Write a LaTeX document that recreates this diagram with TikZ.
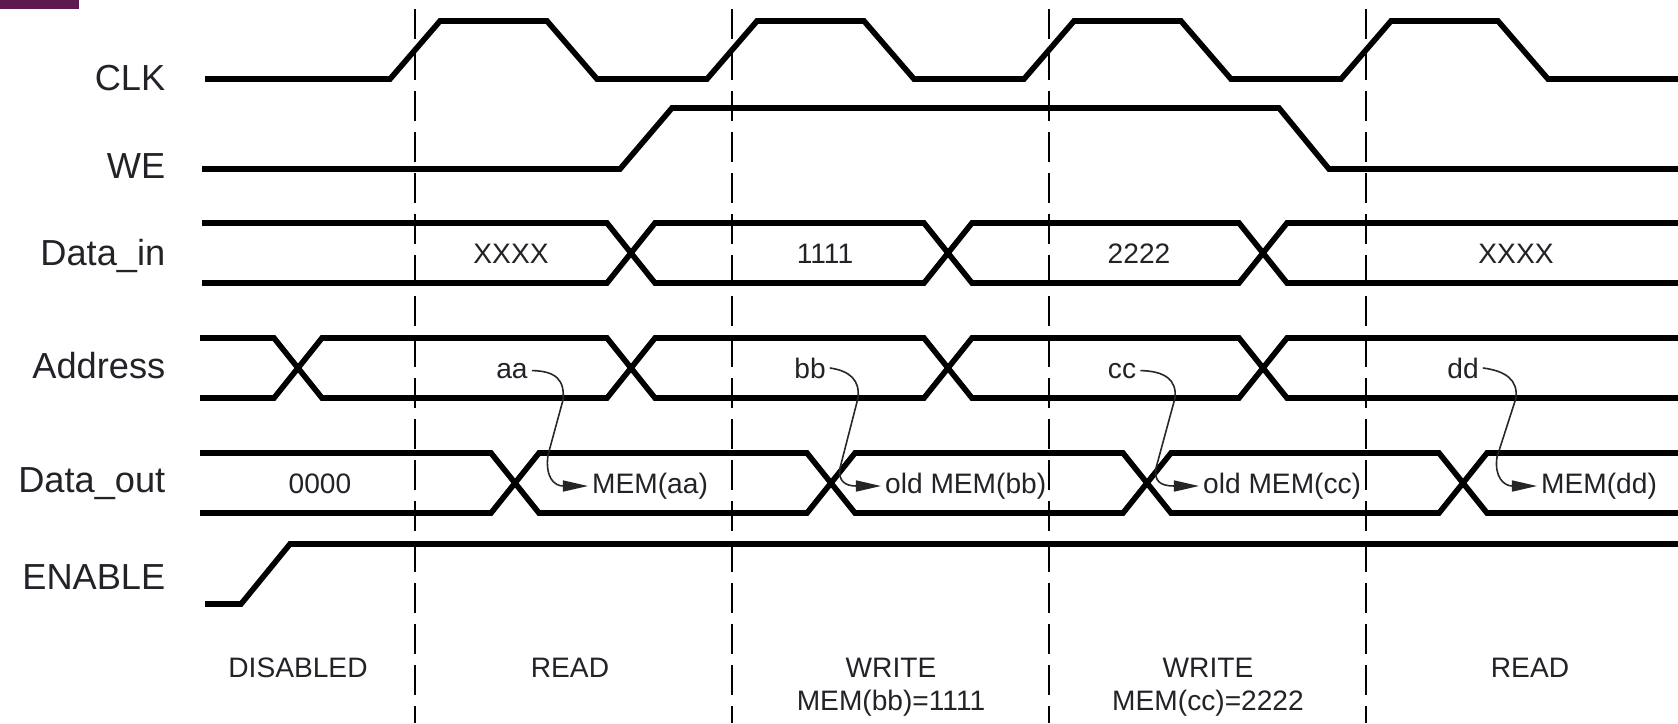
\documentclass[tikz,border=0pt]{standalone}
\usepackage{fontspec}
\setmainfont{Liberation Sans}
\usetikzlibrary{arrows.meta}
\definecolor{barpurple}{RGB}{92,26,80}
\definecolor{textgray}{RGB}{34,34,40}
\tikzstyle{signal} = [line width=1.6pt, black]
\tikzstyle{phase_line} = [line width=0.7pt, black, dash pattern=on 0.3cm off 0.11cm]
\tikzstyle{sig_name} = [anchor=base east, inner sep=0pt, text=textgray, font=\fontsize{10.3}{12}\selectfont]
\tikzstyle{bus_value} = [anchor=base, inner sep=1pt, text=textgray, font=\fontsize{8}{9.4}\selectfont]
\tikzstyle{mem_value} = [anchor=west, inner sep=1pt, text=textgray, font=\fontsize{8}{9.4}\selectfont]
\tikzstyle{phase_name} = [anchor=north, inner sep=0pt, align=center, text=textgray, font=\fontsize{8}{9.4}\selectfont]
\tikzstyle{mem_arrow} = [line width=0.45pt, black!85, -{Triangle[length=2.5mm,width=1.1mm]}]

\begin{document}
\begin{tikzpicture}[x=0.01cm, y=-0.01cm]

    \useasboundingbox (0,0) rectangle (1678,723);
    \fill [barpurple] (0,0) rectangle (79,9);

    % signal names
    \node (clk) [sig_name] at (166,90) {CLK};
    \node (we) [sig_name] at (166,178) {WE};
    \node (datain) [sig_name] at (166,265) {Data\_in};
    \node (address) [sig_name] at (166,378) {Address};
    \node (dataout) [sig_name] at (166,492) {Data\_out};
    \node (enable) [sig_name] at (166,589) {ENABLE};

    % phase boundaries
    \draw [phase_line] (415,9) -- (415,723);
    \draw [phase_line] (732,9) -- (732,723);
    \draw [phase_line] (1049,9) -- (1049,723);
    \draw [phase_line] (1366,9) -- (1366,723);

    % waveforms
    \draw [signal] (205,79) -- (390,79) -- (440,21) -- (547,21) -- (597,79) -- (707,79) -- (757,21)
        -- (864,21) -- (914,79) -- (1024,79) -- (1074,21) -- (1181,21) -- (1231,79) -- (1341,79)
        -- (1391,21) -- (1498,21) -- (1548,79) -- (1678,79);

    \draw [signal] (202,169) -- (620,169) -- (672,108) -- (1279,108) -- (1329,169) -- (1678,169);

    \draw [signal] (202,223) -- (607,223) -- (655,283) -- (924,283) -- (972,223) -- (1239,223)
        -- (1287,283) -- (1678,283);
    \draw [signal] (202,283) -- (607,283) -- (655,223) -- (924,223) -- (972,283) -- (1239,283)
        -- (1287,223) -- (1678,223);

    \draw [signal] (200,338) -- (274,338) -- (322,398) -- (607,398) -- (655,338) -- (924,338)
        -- (972,398) -- (1239,398) -- (1287,338) -- (1678,338);
    \draw [signal] (200,398) -- (274,398) -- (322,338) -- (607,338) -- (655,398) -- (924,398)
        -- (972,338) -- (1239,338) -- (1287,398) -- (1678,398);

    \draw [signal] (200,453) -- (491,453) -- (539,513) -- (807,513) -- (855,453) -- (1123,453)
        -- (1171,513) -- (1439,513) -- (1487,453) -- (1678,453);
    \draw [signal] (200,513) -- (491,513) -- (539,453) -- (807,453) -- (855,513) -- (1123,513)
        -- (1171,453) -- (1439,453) -- (1487,513) -- (1678,513);

    \draw [signal] (205,604) -- (241,604) -- (290,544) -- (1678,544);

    % bus values
    \node (dinx1) [bus_value] at (511,263) {XXXX};
    \node (din1) [bus_value] at (825,263) {1111};
    \node (din2) [bus_value] at (1139,263) {2222};
    \node (dinx2) [bus_value] at (1516,263) {XXXX};

    \node (aa) [bus_value] at (512,378) {aa};
    \node (bb) [bus_value] at (810,378) {bb};
    \node (cc) [bus_value] at (1122,378) {cc};
    \node (dd) [bus_value] at (1463,378) {dd};

    \node (dout0) [bus_value] at (320,493) {0000};
    \node (memaa) [mem_value] at (588,486) {MEM(aa)};
    \node (membb) [mem_value] at (881,486) {old MEM(bb)};
    \node (memcc) [mem_value] at (1199,486) {old MEM(cc)};
    \node (memdd) [mem_value] at (1537,486) {MEM(dd)};

    \draw [mem_arrow] (aa.east) .. controls (556,371) and (565,380) .. (563,400) -- (548,455)
        .. controls (545,477) and (554,486) .. (memaa.west);
    \draw [mem_arrow] (bb.east) .. controls (850,371) and (860,380) .. (858,398) -- (840,468)
        .. controls (838,481) and (845,486) .. (membb.west);
    \draw [mem_arrow] (cc.east) .. controls (1165,371) and (1177,380) .. (1175,398) -- (1156,468)
        .. controls (1154,481) and (1160,486) .. (memcc.west);
    \draw [mem_arrow] (dd.east) .. controls (1506,371) and (1518,380) .. (1516,398) -- (1497,457)
        .. controls (1494,477) and (1504,486) .. (memdd.west);

    % phases
    \node (disabled) [phase_name] at (298,657) {DISABLED};
    \node (read1) [phase_name] at (570,657) {READ};
    \node (write1) [phase_name] at (891,657) {WRITE\\MEM(bb)=1111};
    \node (write2) [phase_name] at (1208,657) {WRITE\\MEM(cc)=2222};
    \node (read2) [phase_name] at (1530,657) {READ};

\end{tikzpicture}
\end{document}
